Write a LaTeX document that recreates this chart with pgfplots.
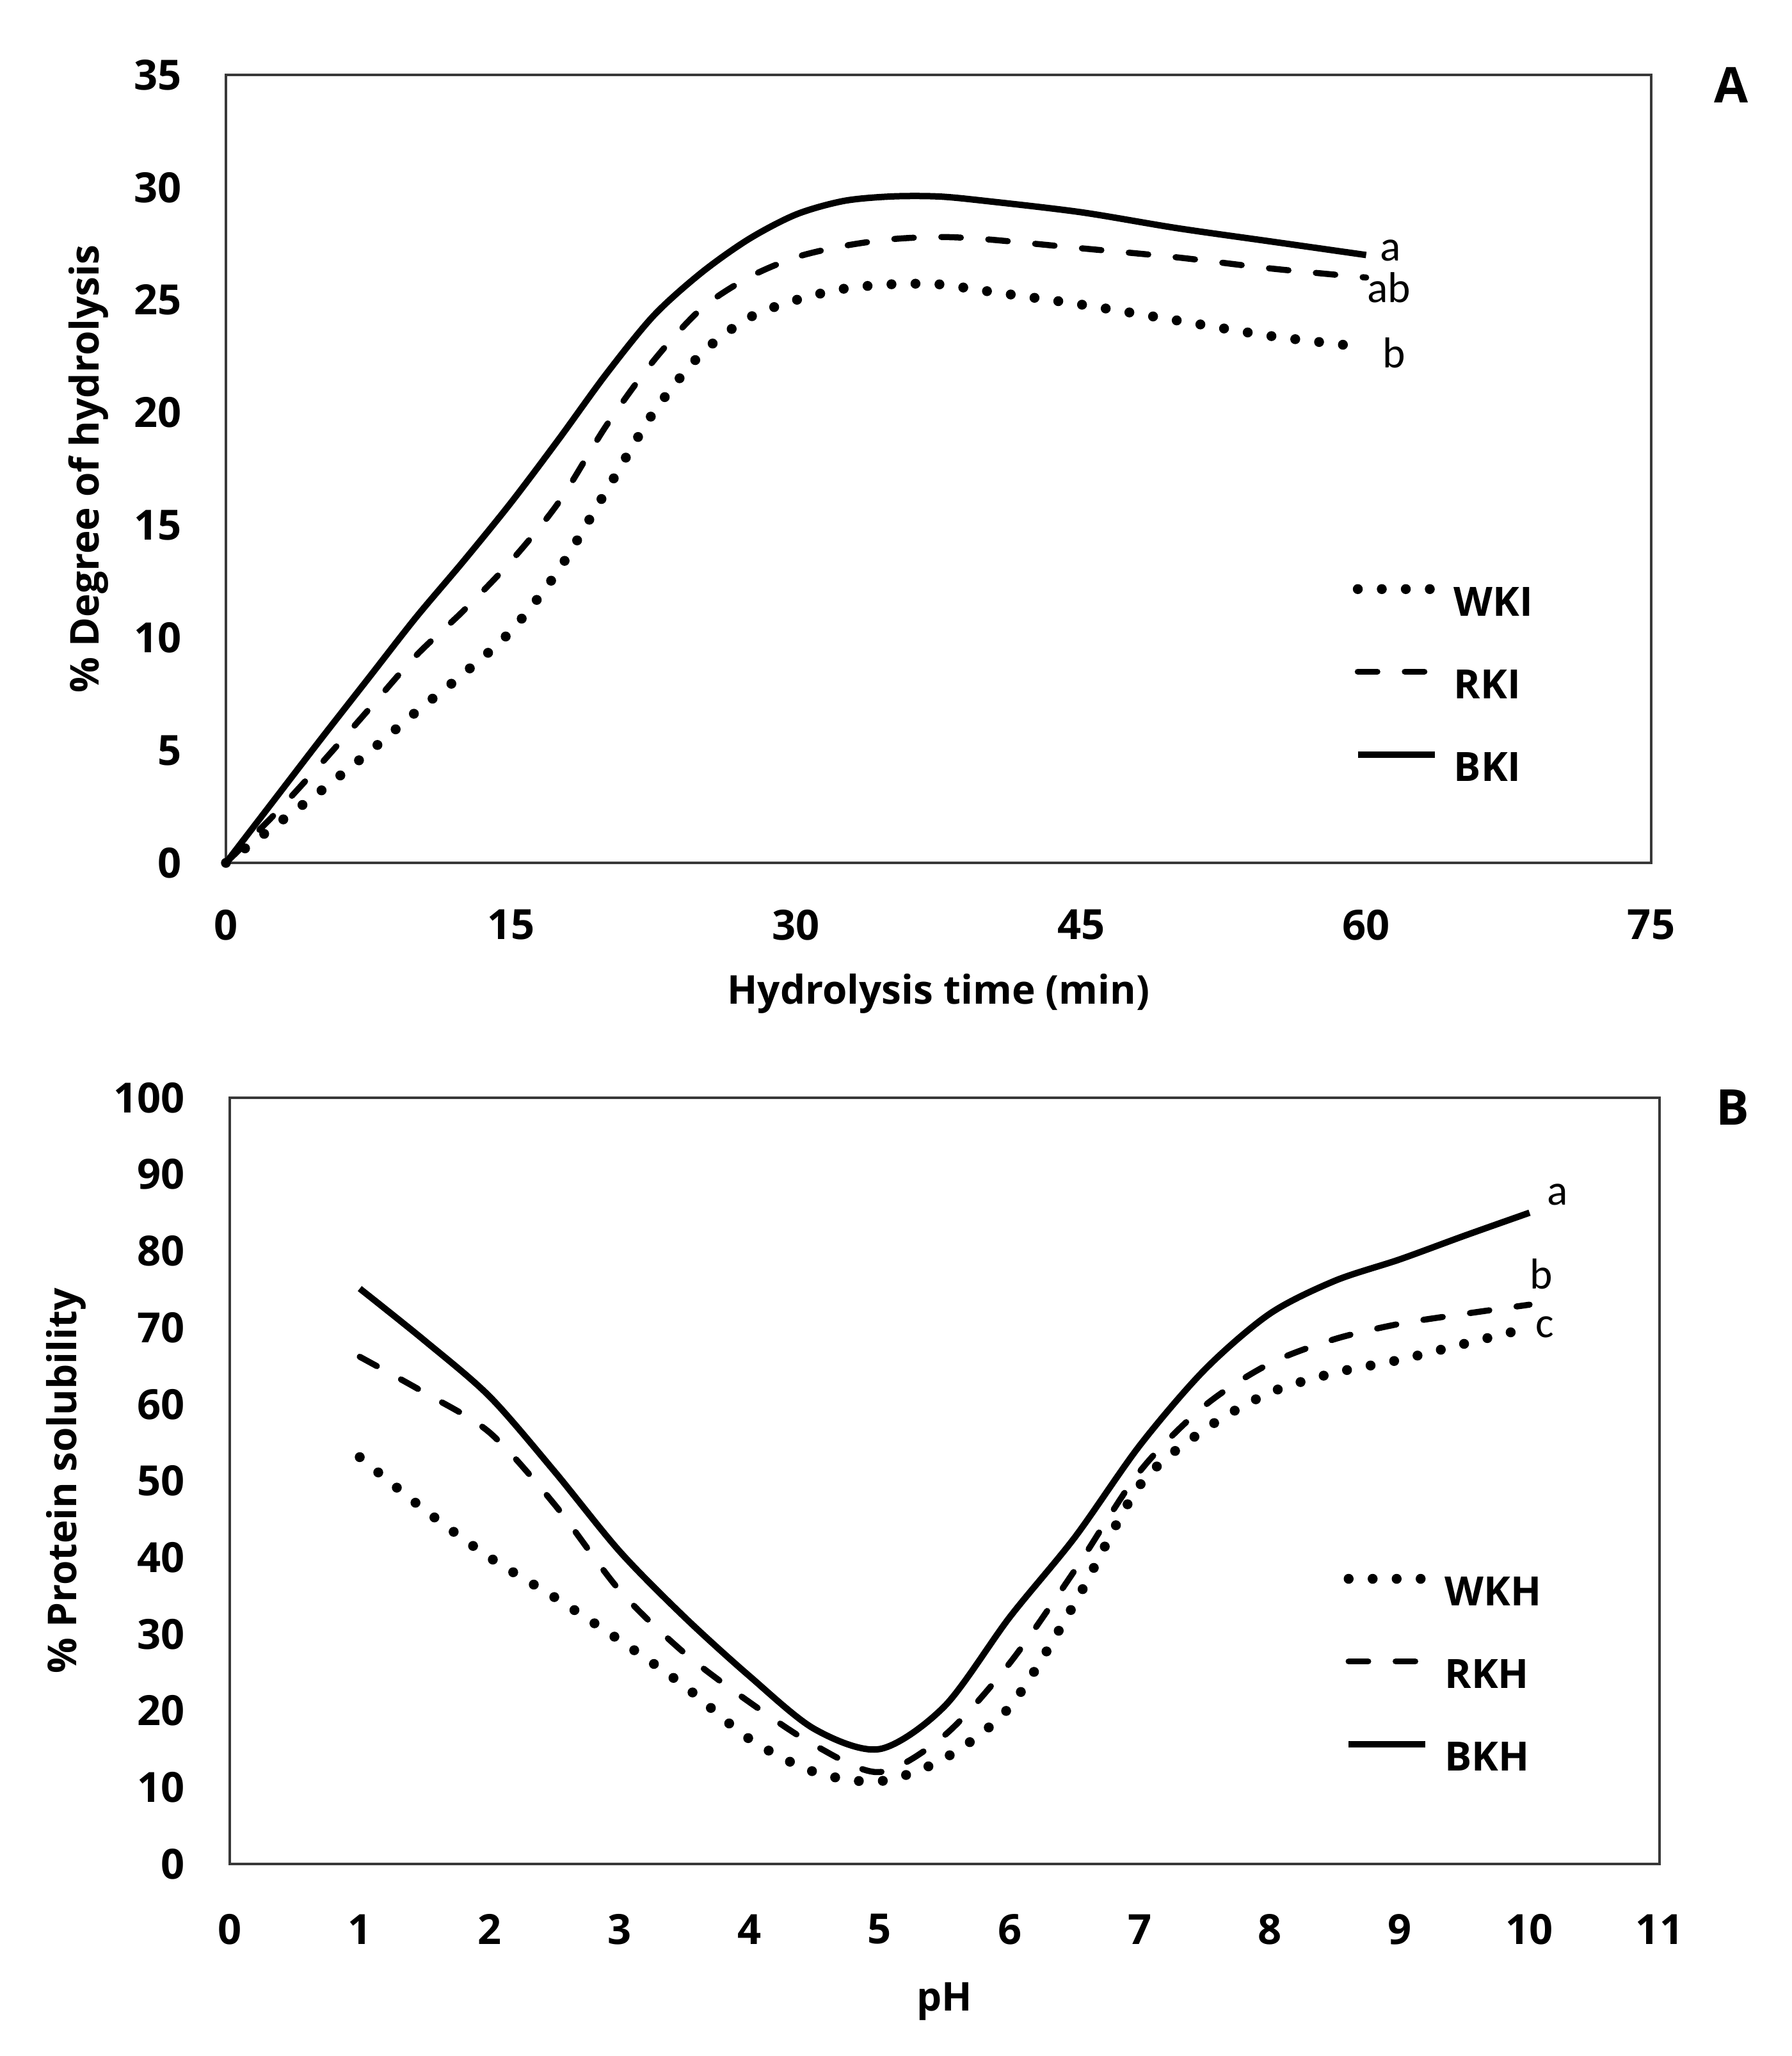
\documentclass[border=0pt]{standalone}
\usepackage{fontspec}
\setmainfont{Open Sans}
\newfontfamily\lblfont{Carlito}
\usepackage{pgfplots}
\pgfplotsset{compat=1.18}

\pgfplotsset{
  panel/.style={
    scale only axis, clip=false,
    axis line style={draw=black!78, line width=0.7pt},
    major tick length=0pt, tick style={draw=none},
    /pgf/number format/assume math mode=true,
    ticklabel style={font=\fontsize{13}{15}\selectfont\bfseries},
    label style={font=\fontsize{12.4}{15}\selectfont\bfseries},
    legend style={draw=none, fill=none, inner sep=0pt, outer sep=0pt,
      font=\fontsize{12.6}{15}\selectfont\bfseries, row sep=15pt,
      nodes={inner sep=0pt}, column sep=4.5pt},
    legend cell align=left,
    legend image code/.code={\draw[##1] (0pt,4.6pt) -- (24pt,4.6pt);},
  },
  dotl/.style={black, line width=3.1pt, line cap=round, dash pattern=on 0pt off 7.5pt, smooth},
  dashl/.style={black, line width=1.9pt, line cap=round, dash pattern=on 6.1pt off 8.6pt, smooth},
  solidl/.style={black, line width=2pt, smooth},
}

\pgfplotstableread{
t    WKI   RKI   BKI
0    0     0     0
2.5  1.6   2.1   2.75
5    3.2   4.4   5.5
7.5  4.9   6.8   8.2
10   6.7   9.2   10.9
12.5 8.4   11.2  13.4
15   10.3  13.4  16.0
17.5 13.0  16.0  18.8
20   16.5  19.4  21.7
22.5 20.0  22.3  24.3
25   22.6  24.6  26.2
27.5 24.2  26.0  27.7
30   25.0  26.9  28.8
32.5 25.5  27.4  29.4
35   25.7  27.7  29.6
37.5 25.7  27.8  29.6
40   25.4  27.7  29.4
45   24.8  27.3  28.9
50   24.1  26.9  28.2
55   23.4  26.4  27.6
60   22.9  26.0  27.0
}\dh

\pgfplotstableread{
pH   WKH   RKH   BKH
1    53.1  66.2  75.1
1.5  46.2  61.5  68.3
2    40.0  56.3  61.0
2.5  34.8  46.9  51.2
3    29.2  35.7  40.8
3.5  23.2  27.5  32.2
4    16.3  21.1  24.5
4.5  12.0  15.5  17.6
5    10.8  12.0  15.0
5.5  13.8  16.8  20.6
6    20.5  26.2  32.2
6.5  34.0  38.3  42.6
7    49.4  51.2  54.6
7.5  56.7  59.8  64.5
8    61.5  65.3  71.8
8.5  64.1  68.5  76.1
9    65.8  70.5  78.9
9.5  67.9  71.8  82.0
10   70.0  73.0  85.0
}\sol

\begin{document}
\begin{tikzpicture}[x=1pt,y=1pt]
\useasboundingbox (0,0) rectangle (559.8,-642.4);

% panel A
\begin{axis}[panel,
  at={(70.6pt,-269.6pt)}, anchor=south west,
  width=445.4pt, height=246.2pt,
  xmin=0, xmax=75, ymin=0, ymax=35,
  xtick={0,15,...,75}, ytick={0,5,...,35},
  xticklabel style={anchor=center, yshift=-19.4pt},
  yticklabel style={anchor=east, inner sep=0pt, xshift=-13.6pt},
  xlabel={Hydrolysis time (min)},
  ylabel={\% Degree of hydrolysis},
  xlabel style={at={(axis description cs:0.5,-0.1657)}, anchor=center},
  ylabel style={at={(axis description cs:-0.0965,0.5)}, anchor=center},
  legend style={at={(axis cs:59.3,7.9)}, anchor=west},
]
\addplot[dotl] table[x=t, y=WKI] {\dh};
\addplot[dashl] table[x=t, y=RKI] {\dh};
\addplot[solidl] table[x=t, y=BKI] {\dh};
\legend{WKI, RKI, BKI}
\node[anchor=west, inner sep=0pt, font=\lblfont\fontsize{13.5}{16}\selectfont] at (axis cs:60.69,27.2) {a};
\node[anchor=west, inner sep=0pt, font=\lblfont\fontsize{13.5}{16}\selectfont] at (axis cs:60.03,25.56) {ab};
\node[anchor=west, inner sep=0pt, font=\lblfont\fontsize{13.5}{16}\selectfont] at (axis cs:60.84,22.65) {b};
\end{axis}

% panel B
\begin{axis}[panel,
  at={(71.8pt,-582.4pt)}, anchor=south west,
  width=446.8pt, height=239.4pt,
  xmin=0, xmax=11, ymin=0, ymax=100,
  xtick={0,1,...,11}, ytick={0,10,...,100},
  xticklabel style={anchor=center, yshift=-20.4pt},
  yticklabel style={anchor=east, inner sep=0pt, xshift=-13.8pt},
  xlabel={pH},
  ylabel={\% Protein solubility},
  xlabel style={at={(axis description cs:0.5,-0.1796)}, anchor=center},
  ylabel style={at={(axis description cs:-0.1146,0.5)}, anchor=center},
  legend style={at={(axis cs:8.57,24.7)}, anchor=west},
]
\addplot[dotl] table[x=pH, y=WKH] {\sol};
\addplot[dashl] table[x=pH, y=RKH] {\sol};
\addplot[solidl] table[x=pH, y=BKH] {\sol};
\legend{WKH, RKH, BKH}
\node[anchor=west, inner sep=0pt, font=\lblfont\fontsize{13.5}{16}\selectfont] at (axis cs:10.13,87.4) {a};
\node[anchor=west, inner sep=0pt, font=\lblfont\fontsize{13.5}{16}\selectfont] at (axis cs:10.0,77.0) {b};
\node[anchor=west, inner sep=0pt, font=\lblfont\fontsize{13.5}{16}\selectfont] at (axis cs:10.04,70.1) {c};
\end{axis}

\node[font=\fontsize{15.4}{18}\selectfont\bfseries] at (541,-26.6) {A};
\node[font=\fontsize{15.4}{18}\selectfont\bfseries] at (541.4,-346) {B};
\end{tikzpicture}
\end{document}
